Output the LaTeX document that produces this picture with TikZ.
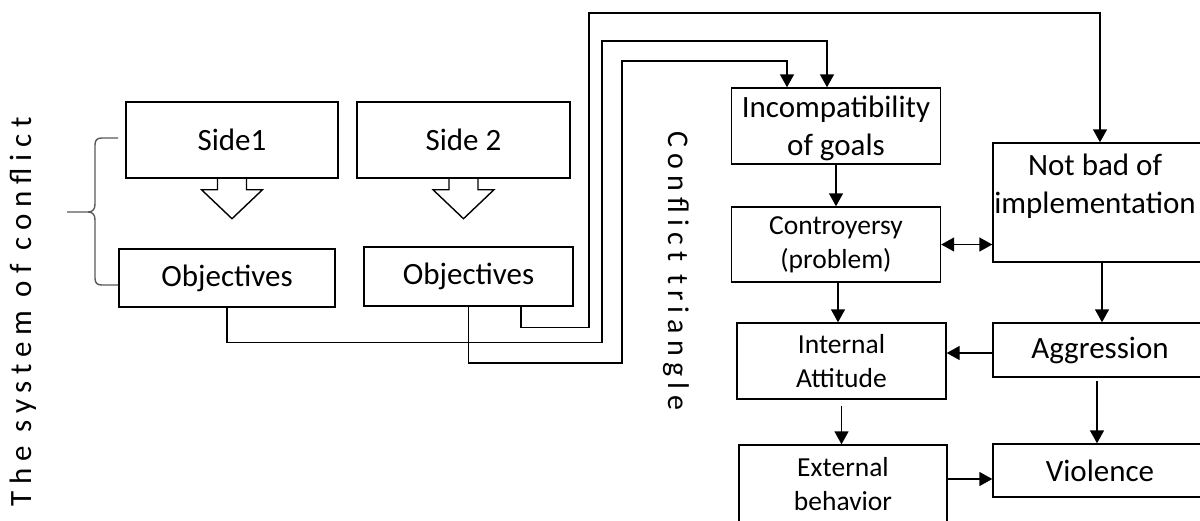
\documentclass[tikz,border=0pt]{standalone}
\usepackage{fontspec}
\setmainfont{Carlito}
\usetikzlibrary{arrows.meta}

\tikzset{
  box/.style={draw,line width=1.4pt,align=center,inner sep=0pt},
  big/.style={font=\fontsize{31}{38}\selectfont},
  small/.style={font=\fontsize{27.5}{34}\selectfont},
  wire/.style={line width=1.4pt},
  tip/.style={wire,-{Triangle[length=13pt,width=14pt]}},
  tips/.style={wire,{Triangle[length=13pt,width=14pt]}-{Triangle[length=13pt,width=14pt]}},
  bracket/.style={line width=1.4pt,color=black!65}
}

\begin{document}
\begin{tikzpicture}[x=1pt,y=-1pt]
    \clip (0,0) rectangle (1200,520);

    \node[rotate=90,font=\fontsize{31}{38}\selectfont\addfontfeature{LetterSpace=22}] (sys) at (23,312) {The system of conflict};
    \node[rotate=-90,font=\fontsize{30}{36}\selectfont\addfontfeature{LetterSpace=20.5}] (tri) at (676,271) {Conflict triangle};

    \node[box,big,minimum width=212pt,minimum height=76pt] (s1) at (232,140) {Side1};
    \node[box,big,minimum width=213pt,minimum height=76pt] (s2) at (463.5,140) {Side 2};
    \node[box,big,minimum width=216pt,minimum height=58pt] (o1) at (227,278) {Objectives};
    \node[box,big,minimum width=209pt,minimum height=59pt] (o2) at (468.5,276.5) {Objectives};

    \node[box,big,minimum width=209pt,minimum height=76pt,text depth=0pt] (inc) at (836,126) {Incompatibility\\of goals};
    \node[box,small,minimum width=209pt,minimum height=75pt] (con) at (836,244.5) {Controyersy\\(problem)};
    \node[box,small,minimum width=209pt,minimum height=76pt] (att) at (841.5,361) {Internal\\Attitude};
    \node[box,small,minimum width=208pt,minimum height=78pt] (ext) at (843,484) {External\\behavior};

    \node[box,minimum width=214pt,minimum height=119pt] (nbi) at (1100,202.5) {};
    \node[big,align=center,inner sep=0pt] (nbitext) at ([xshift=-5pt,yshift=16pt]nbi.center) {Not bad of\\implementation};
    \node[box,big,minimum width=214pt,minimum height=54pt] (agg) at (1100,350) {Aggression};
    \node[box,big,minimum width=214pt,minimum height=53pt] (vio) at (1100,470.5) {Violence};

    % brace
    \draw[bracket] (118,138) -- (102,138) .. controls (97,138) and (95,140) .. (95,145) -- (95,204) .. controls (95,209) and (93,212) .. (88,212) -- (67,212);
    \draw[bracket] (88,212) .. controls (93,212) and (95,215) .. (95,220) -- (95,278) .. controls (95,283) and (97,285) .. (102,285) -- (118,285);

    % block arrows
    \draw[wire] ([xshift=-14.5pt]s1.south) -- ++(0,11) -- ++(-16,0) -- ++(30.5,29) -- ++(30.5,-29) -- ++(-16,0) -- ([xshift=14.5pt]s1.south);
    \draw[wire] ([xshift=-14.5pt]s2.south) -- ++(0,11) -- ++(-16,0) -- ++(30.5,29) -- ++(30.5,-29) -- ++(-16,0) -- ([xshift=14.5pt]s2.south);

    % lines to the triangle
    \draw[tip] (o1.south) -- ++(0,35) -| (602,41) -| ([xshift=-9pt]inc.north);
    \draw[tip] (o2.south) |- (622,363) -- (622,61) -| ([xshift=-49pt]inc.north);
    \draw[tip] ([xshift=52.5pt]o2.south) -- ++(0,21) -| (589,13) -| (nbi.north);

    \draw[tip] (inc) -- (con);
    \draw[tip] ([xshift=2pt]con.south) -- ([xshift=2pt]con.south |- att.north);
    \draw[tip,shorten <=6pt] (att.south) -- (att.south |- ext.north);
    \draw[tips] (con.east) -- (con.east -| nbi.west);
    \draw[tip] ([xshift=2pt]nbi.south) -- ([xshift=2pt]nbi.south |- agg.north);
    \draw[tip] ([yshift=-3pt]agg.west) -- ([yshift=-3pt]agg.west -| att.east);
    \draw[tip,shorten <=3pt] ([xshift=-3pt]agg.south) -- ([xshift=-3pt]agg.south |- vio.north);
    \draw[tip] ([yshift=5pt]ext.east) -- ([yshift=5pt]ext.east -| vio.west);
\end{tikzpicture}
\end{document}
